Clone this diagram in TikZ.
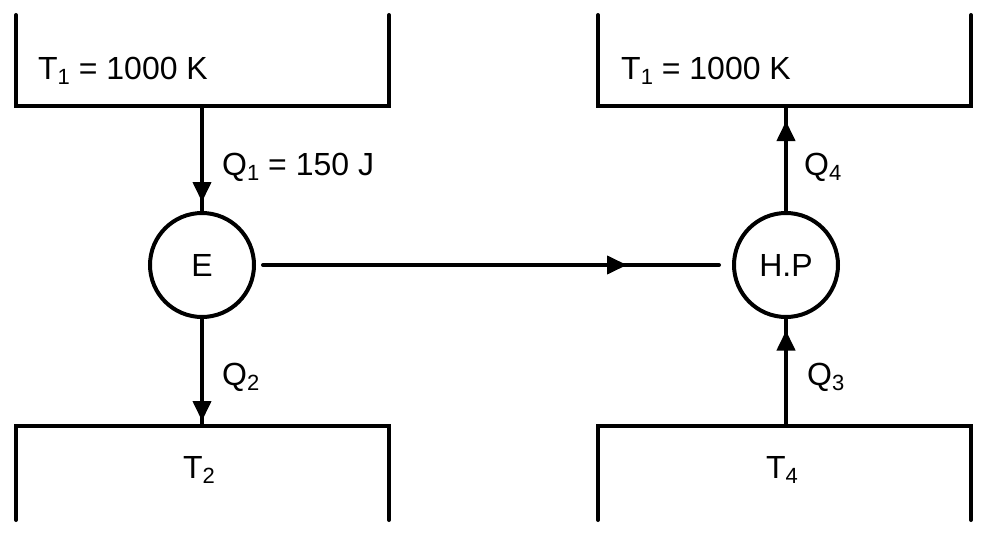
\documentclass[tikz,border=0pt]{standalone}
\usepackage{fontspec}
\setmainfont{Liberation Sans}
\usetikzlibrary{arrows.meta,decorations.markings}
\newcommand{\sbs}[1]{\raisebox{-0.17em}{\fontsize{22}{26}\selectfont #1}}
\begin{document}
\begin{tikzpicture}[x=1pt,y=-1pt,
  every node/.style={font=\fontsize{32}{38}\selectfont, inner sep=0pt},
  wall/.style={line width=4pt, line cap=round, line join=miter},
  engine/.style={circle, draw, line width=4pt, minimum size=104pt},
  midarrow/.style={line width=4pt, line cap=round, postaction={decorate},
    decoration={markings, mark=at position #1 with {\arrow{Triangle[length=20pt,width=18pt]}}}},
  lbl/.style={anchor=base west}]
\useasboundingbox (0,0) rectangle (988,535);
% reservoirs
\draw[wall] (16,15) -- (16,106) -- (389,106) -- (389,15);
\draw[wall] (598,15) -- (598,106) -- (971,106) -- (971,15);
\draw[wall] (16,520) -- (16,425.5) -- (389,425.5) -- (389,520);
\draw[wall] (598,520) -- (598,425.5) -- (971,425.5) -- (971,520);
\coordinate (R1) at (202,106);
\coordinate (R2) at (202,425.5);
\coordinate (R3) at (786,425.5);
\coordinate (R4) at (786,106);
% engines
\node[engine] (E) at (202,265) {E};
\node[engine] (HP) at (786,265) {H.P};
% labels
\node[lbl] (t1) at (38,79) {T\sbs{1} = 1000 K};
\node[lbl] (t1b) at (621,79) {T\sbs{1} = 1000 K};
\node[lbl] (q1) at (222,175) {Q\sbs{1} = 150 J};
\node[lbl] (q2) at (222,385) {Q\sbs{2}};
\node[lbl] (q3) at (807,385) {Q\sbs{3}};
\node[lbl] (q4) at (804,175) {Q\sbs{4}};
\node[anchor=base] (t2) at (199,478) {T\sbs{2}};
\node[anchor=base] (t4) at (782,478) {T\sbs{4}};
% connectors
\draw[midarrow=96pt] (R1) -- (E.north);
\draw[midarrow=102pt] (E.south) -- (R2);
\draw[midarrow=371pt, shorten <=7pt, shorten >=13pt] (E.east) -- (HP.west);
\draw[midarrow=95pt] (R3) -- (HP.south);
\draw[midarrow=90pt] (HP.north) -- (R4);
\end{tikzpicture}
\end{document}
